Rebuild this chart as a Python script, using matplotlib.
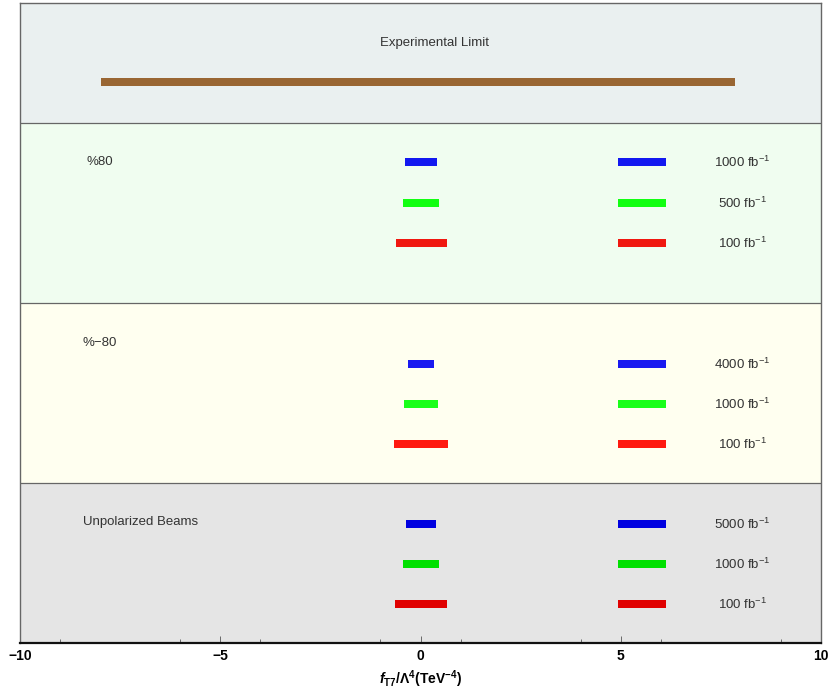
import matplotlib
matplotlib.use("Agg")
import matplotlib.pyplot as plt

plt.rcParams['font.family'] = ['Liberation Sans', 'DejaVu Sans']
plt.rcParams['mathtext.fontset'] = 'custom'
plt.rcParams['mathtext.rm'] = 'Liberation Sans:bold'
plt.rcParams['mathtext.it'] = 'Liberation Sans:bold:italic'
plt.rcParams['mathtext.bf'] = 'Liberation Sans:bold'

# ---- data ----
exp_limit = (-7.98, 7.85)

panel_names = ["%80", "%\u221280", "Unpolarized Beams"]
lumi_labels = [
    ["1000", "500", "100"],
    ["4000", "1000", "100"],
    ["5000", "1000", "100"],
]
left_lo = [
    [-0.39, -0.43, -0.61],
    [-0.32, -0.41, -0.66],
    [-0.36, -0.43, -0.64],
]
left_hi = [
    [0.42, 0.47, 0.65],
    [0.33, 0.43, 0.69],
    [0.39, 0.45, 0.67],
]
right_lo = [
    [4.93, 4.93, 4.93],
    [4.93, 4.93, 4.93],
    [4.93, 4.93, 4.93],
]
right_hi = [
    [6.13, 6.13, 6.13],
    [6.13, 6.13, 6.13],
    [6.13, 6.13, 6.13],
]
bar_colors = [
    ["#1218F0", "#12FF12", "#F01810"],
    ["#1A1AF0", "#1AFF1A", "#FF1A10"],
    ["#0000E0", "#00E000", "#E00000"],
]
major_ticks = [-10, -5, 0, 5, 10]
minor_ticks = [-9, -6, -4, -1, 1, 4, 6, 9]

# ---- layout (vertical, in axis units) ----
panel_bounds = [(520, 640), (340, 520), (160, 340), (0, 160)]
panel_colors = ["#EAF0F0", "#F0FDF0", "#FFFFF0", "#E5E5E5"]
row_y = [[481, 440, 400], [279, 239, 199], [119, 79, 39]]
name_pos = [(-8.0, 481), (-8.0, 300), (-7.0, 121)]
exp_y = 561
bar_h = 8

fig = plt.figure(figsize=(8.31, 6.94), dpi=100)
ax = fig.add_axes([20/831, 51/694, 801/831, 640/694])
ax.set_xlim(-10, 10)
ax.set_ylim(0, 640)

for (lo, hi), c in zip(panel_bounds, panel_colors):
    ax.axhspan(lo, hi, color=c, zorder=0, lw=0)
for lo, hi in panel_bounds[1:]:
    ax.axhline(hi, color="#666666", lw=0.9, zorder=1)

ax.barh(exp_y, exp_limit[1] - exp_limit[0], left=exp_limit[0], height=bar_h,
        color="#996633", zorder=3)
ax.text(0.36, 600, "Experimental Limit", ha="center", va="center",
        fontsize=9.5, color="#333333")

for p in range(3):
    for r in range(3):
        y = row_y[p][r]
        c = bar_colors[p][r]
        ax.barh(y, left_hi[p][r] - left_lo[p][r], left=left_lo[p][r],
                height=bar_h, color=c, zorder=3)
        ax.barh(y, right_hi[p][r] - right_lo[p][r], left=right_lo[p][r],
                height=bar_h, color=c, zorder=3)
        ax.text(8.03, y, lumi_labels[p][r] + r" fb$^{\mathregular{-1}}$",
                ha="center", va="center", fontsize=9.5, color="#333333")
    ax.text(name_pos[p][0], name_pos[p][1], panel_names[p], ha="center",
            va="center", fontsize=9.5, color="#333333")

ax.set_yticks([])
ax.set_xticks(major_ticks)
ax.set_xticklabels(["\u221210", "\u22125", "0", "5", "10"], fontweight="bold",
                   fontsize=10)
ax.set_xticks(minor_ticks, minor=True)
ax.tick_params(axis="x", which="major", direction="in", length=5, width=0.6,
               color="#555555", pad=4)
ax.tick_params(axis="x", which="minor", direction="in", length=3, width=0.6,
               color="#555555")
ax.set_xlabel(r"$\mathit{f}_{\mathrm{T7}}\mathrm{/\Lambda^{4}(TeV^{-4})}$",
              fontsize=10, labelpad=4)

for s in ["left", "top", "right"]:
    ax.spines[s].set_color("#666666")
    ax.spines[s].set_linewidth(1.0)
ax.spines["bottom"].set_color("#111111")
ax.spines["bottom"].set_linewidth(1.6)

fig.savefig("out.png", dpi=100)
